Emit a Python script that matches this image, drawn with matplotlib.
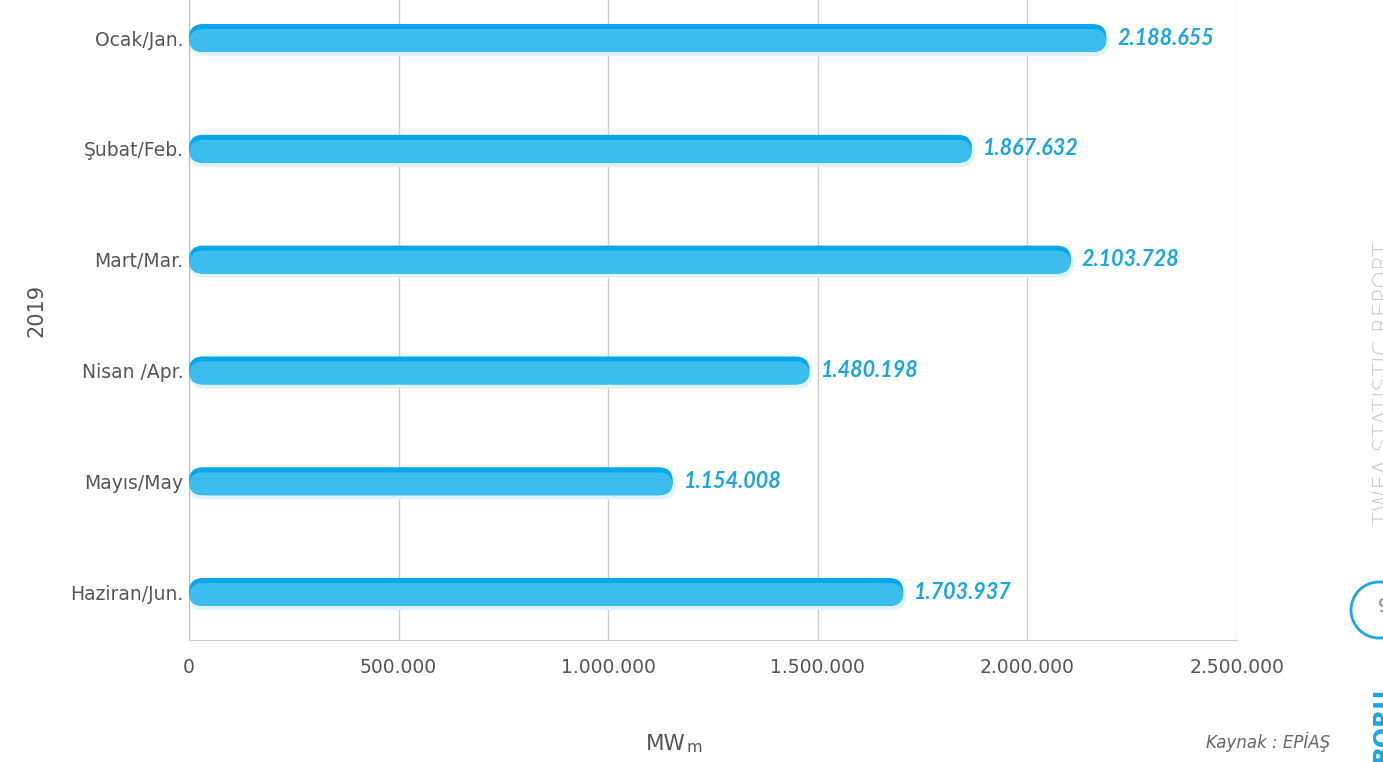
import matplotlib.pyplot as plt
from matplotlib.patches import FancyBboxPatch, Ellipse
from matplotlib.ticker import FuncFormatter

months = ['Ocak/Jan.', 'Şubat/Feb.', 'Mart/Mar.', 'Nisan /Apr.', 'Mayıs/May', 'Haziran/Jun.']
values = [2188655, 1867632, 2103728, 1480198, 1154008, 1703937]
labels = ['2.188.655', '1.867.632', '2.103.728', '1.480.198', '1.154.008', '1.703.937']
xticks = [0, 500000, 1000000, 1500000, 2000000, 2500000]

plt.rcParams['font.family'] = ['DejaVu Sans']

fig = plt.figure(figsize=(13.83, 7.62), dpi=100)
fig.patch.set_facecolor('white')
ax = fig.add_axes([189 / 1383, 1 - 640 / 762, (1237 - 189) / 1383, 640 / 762])
ax.set_facecolor('none')

ax.set_xlim(0, 2500000)
ax.set_ylim(5.433, -0.343)

# px -> data unit conversions
px_x = 2500000 / 1048
px_y = (5.433 + 0.343) / 640
aspect = px_y / px_x

h = 28 * px_y
r = 14
for i, v in enumerate(values):
    # soft shadow
    sh = FancyBboxPatch((0, i - h / 2 + 4 * px_y), v + 3 * px_x, h,
                        boxstyle=f"round,pad=0,rounding_size={r * px_x}",
                        mutation_aspect=aspect, fc='#dff2fb', ec='none', zorder=2)
    ax.add_patch(sh)
    # darker top edge
    top = FancyBboxPatch((0, i - h / 2), v, h,
                         boxstyle=f"round,pad=0,rounding_size={r * px_x}",
                         mutation_aspect=aspect, fc='#08a6e8', ec='none', zorder=3)
    ax.add_patch(top)
    body = FancyBboxPatch((0, i - h / 2 + 5 * px_y), v, h - 5 * px_y,
                          boxstyle=f"round,pad=0,rounding_size={r * px_x}",
                          mutation_aspect=aspect, fc='#3bbdee', ec='none', zorder=4)
    ax.add_patch(body)
    ax.text(v + 11 * px_x, i, labels[i], va='center', ha='left', fontsize=15.5,
            fontweight='bold', style='italic', color='#1aa5e3', zorder=5,
            family='Lato')

ax.set_yticks(range(len(months)))
ax.set_yticklabels(months, fontsize=13.5, color='#555555')
ax.set_xticks(xticks)
ax.xaxis.set_major_formatter(FuncFormatter(lambda x, p: f"{int(x):,}".replace(',', '.')))
ax.tick_params(axis='x', labelsize=13.5, labelcolor='#555555', length=0, pad=13)
ax.tick_params(axis='y', length=0, pad=4)
ax.grid(axis='x', color='#cccccc', linewidth=1)
ax.set_axisbelow(True)
for s in ['top', 'right']:
    ax.spines[s].set_visible(False)
ax.spines['left'].set_color('#bbbbbb')
ax.spines['bottom'].set_color('#cccccc')

fig.text(37 / 1383, 1 - 310 / 762, '2019', rotation=90, ha='center', va='center',
         fontsize=15, color='#555555')
fig.text(686 / 1383, 1 - 744 / 762, 'MW', ha='right', va='center', fontsize=15.5, color='#555555')
fig.text(687 / 1383, 1 - 748 / 762, 'm', ha='left', va='center', fontsize=11.5, color='#555555')
fig.text(1330 / 1383, 1 - 742 / 762, 'Kaynak : EPİAŞ', ha='right', va='center',
         fontsize=12, style='italic', color='#666666')

# page decorations on the right edge
fig.text(1383 / 1383, 1 - 525 / 762, 'TWEA STATISTIC REPORT', rotation=90, ha='center',
         va='bottom', fontsize=16.5, color='#c8c8c8', fontweight='light')
circ = Ellipse((1379 / 1383, 1 - 610 / 762), 56 / 1383, 56 / 762, transform=fig.transFigure,
               fill=False, ec='#1aa5e3', lw=2, figure=fig)
fig.patches.append(circ)
fig.text(1378 / 1383, 1 - 606 / 762, '9', ha='left', va='center', fontsize=14, color='#888888')
fig.text(1383 / 1383, 1 - 762 / 762, 'BORU', rotation=90, ha='center', va='bottom',
         fontsize=17, color='#1aa5e3', fontweight='bold')

fig.savefig('out.png', dpi=100)
